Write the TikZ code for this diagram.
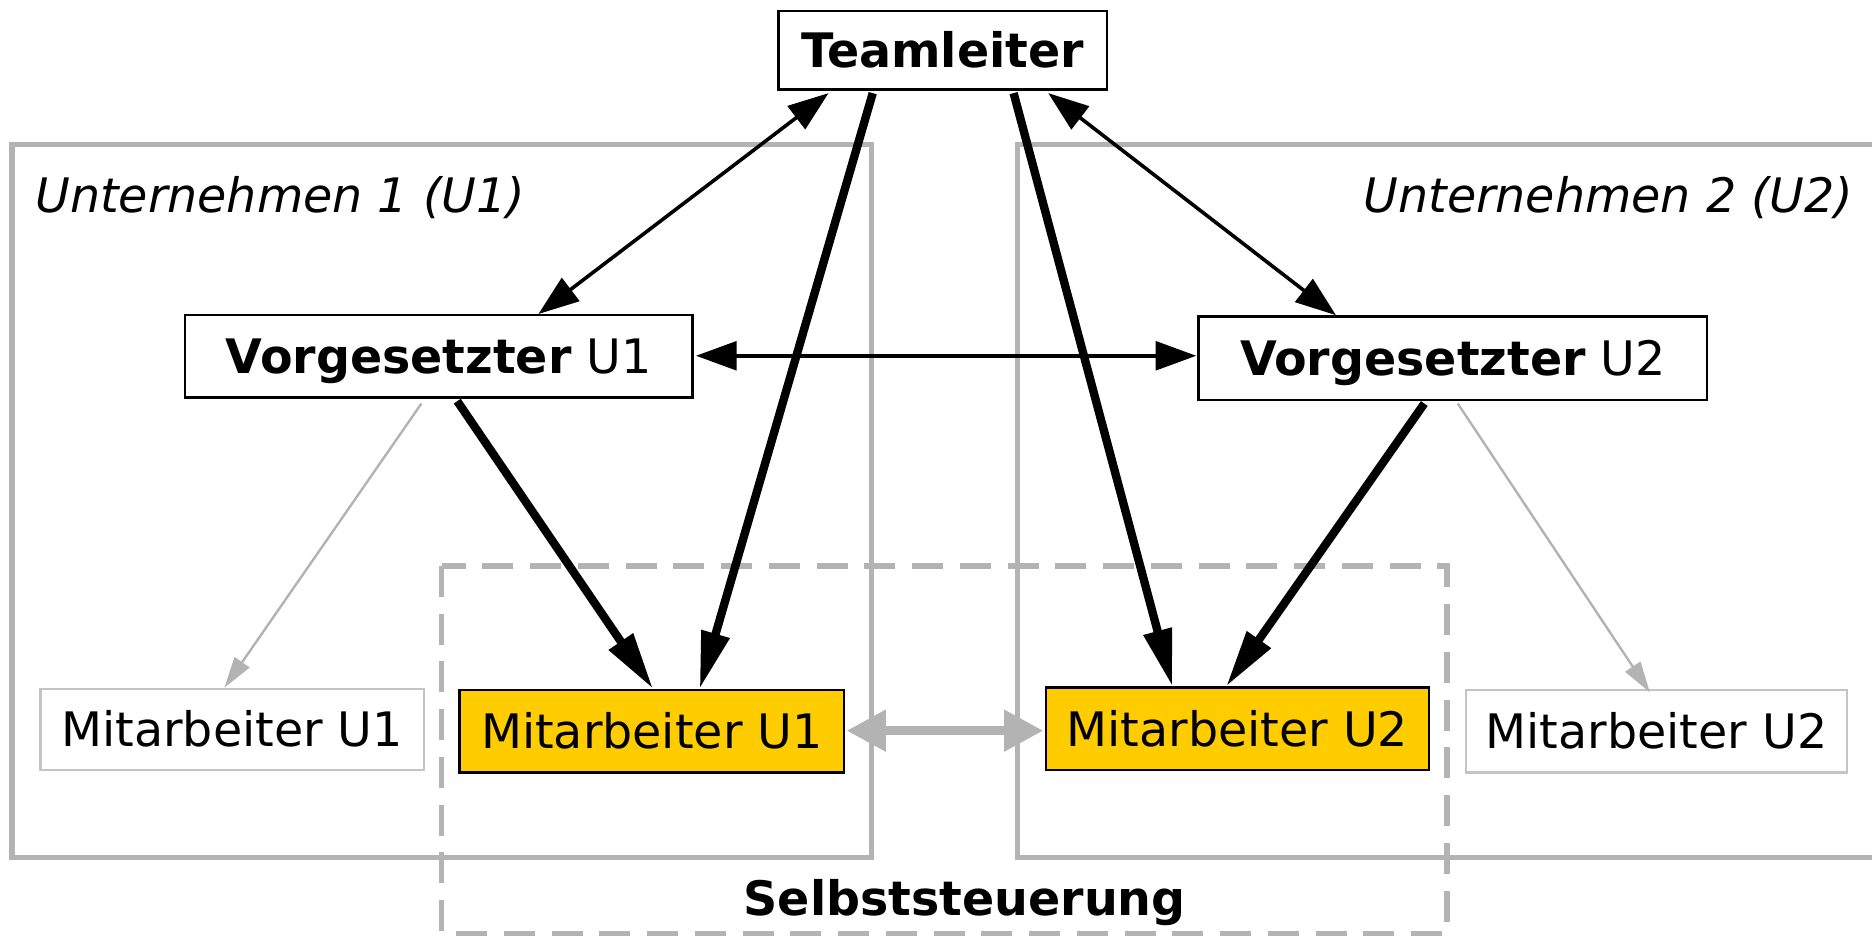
\documentclass[tikz,border=0pt]{standalone}
\usepackage{fontspec}
\setmainfont{DejaVu Sans}
\usetikzlibrary{arrows.meta}
\definecolor{boxgray}{HTML}{B3B3B3}
\definecolor{lightgray2}{HTML}{C4C4C4}
\definecolor{gold}{HTML}{FFCC00}
\begin{document}
\begin{tikzpicture}[x=1pt,y=-1pt,
  every node/.style={font=\fontsize{39.8}{47}\selectfont},
  box/.style={draw=black, line width=2pt, fill=white, inner sep=0pt, text height=29pt, text depth=0pt},
  ybox/.style={box, fill=gold},
  gbox/.style={box, draw=lightgray2},
  area/.style={draw=boxgray, line width=4.5pt},
  selfarea/.style={draw=boxgray, line width=4.5pt, dash pattern=on 26pt off 14pt},
  thinboth/.style={draw=black, line width=3pt, {Triangle[length=34pt,width=24pt]}-{Triangle[length=34pt,width=24pt]}},
  thickarr/.style={draw=black, line width=7pt, -{Triangle[length=48pt,width=23pt]}},
  grayarr/.style={draw=boxgray, line width=2pt, -{Triangle[length=26pt,width=15pt]}},
  grayboth/.style={draw=boxgray, line width=8pt, {Triangle[length=33pt,width=33pt]}-{Triangle[length=33pt,width=33pt]}}
]
\fill[white] (0,0) rectangle (1568,785);
\useasboundingbox (0,0) rectangle (1568,785);

% company areas
\draw[area] (10,121) rectangle (730,718);
\draw[area] (1575,121) -- (852,121) -- (852,718) -- (1575,718);
\node[anchor=base west] (lab1) at (26,178) {\itshape Unternehmen 1 (U1)};
\node[anchor=base east] (lab2) at (1556,178) {\itshape Unternehmen 2 (U2)};

% self-steering area
\draw[selfarea] (370,474) rectangle (1212,782);
\node[anchor=base] (self) at (808,767) {\bfseries Selbststeuerung};

% nodes
\node[box, minimum width=275pt, minimum height=66pt] (team) at (789.5,42) {\bfseries Teamleiter};
\node[box, minimum width=425pt, minimum height=69pt] (vu1) at (367.5,298.5) {\textbf{Vorgesetzter} U1};
\node[box, minimum width=426pt, minimum height=70pt] (vu2) at (1217,300) {\textbf{Vorgesetzter} U2};
\node[gbox, minimum width=321pt, minimum height=68pt] (mu1g) at (194.5,611) {Mitarbeiter U1};
\node[ybox, minimum width=322pt, minimum height=69pt] (mu1y) at (546,612.5) {Mitarbeiter U1};
\node[ybox, minimum width=321pt, minimum height=69pt] (mu2y) at (1036.5,610.5) {Mitarbeiter U2};
\node[gbox, minimum width=319pt, minimum height=69pt] (mu2g) at (1387.5,612.5) {Mitarbeiter U2};

% connectors
\draw[thinboth] ([xshift=43pt,yshift=-2pt]team.south west) -- ([xshift=297pt]vu1.north west);
\draw[thickarr] ([xshift=80pt,yshift=-2pt]team.south west) -- ([xshift=202pt]mu1y.north west);
\draw[thickarr] ([xshift=-79pt,yshift=-2pt]team.south east) -- ([xshift=107pt]mu2y.north west);
\draw[thinboth] ([xshift=-50pt,yshift=-2pt]team.south east) -- ([xshift=116pt]vu2.north west);
\draw[thinboth] ([xshift=2pt,yshift=0.5pt]vu1.east) -- ([xshift=-1pt,yshift=2pt]vu2.west);
\draw[thickarr] ([xshift=229pt,yshift=-2pt]vu1.south west) -- ([xshift=163pt]mu1y.north west);
\draw[grayarr] ([xshift=199pt,yshift=-4pt]vu1.south west) -- ([xshift=155pt]mu1g.north west);
\draw[thickarr] ([xshift=190pt,yshift=-2pt]vu2.south west) -- ([xshift=152pt]mu2y.north west);
\draw[grayarr] ([xshift=218pt,yshift=-2pt]vu2.south west) -- ([xshift=155pt,yshift=-3pt]mu2g.north west);
\draw[grayboth] ([xshift=1pt,yshift=0.5pt]mu1y.east) -- ([xshift=-1pt,yshift=-1.5pt]mu2y.west);
\end{tikzpicture}
\end{document}
